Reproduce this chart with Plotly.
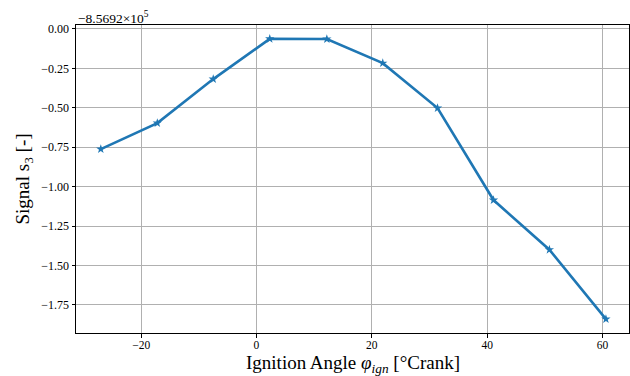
import plotly.graph_objects as go

# Data (values relative to offset -8.5692e5)
ign_angle = [-27.0, -17.2, -7.5, 2.3, 12.2, 21.9, 31.4, 41.1, 50.8, 60.6]
signal_rel = [-0.762, -0.597, -0.318, -0.063, -0.064, -0.217, -0.502, -1.085, -1.400, -1.840]
offset_label = "−8.5692×10<sup>5</sup>"

x_ticks = [-20, 0, 20, 40, 60]
y_ticks = [0.0, -0.25, -0.5, -0.75, -1.0, -1.25, -1.5, -1.75]

FONT = "Liberation Serif"

fig = go.Figure()
fig.add_trace(go.Scatter(
    x=ign_angle, y=signal_rel, mode="lines+markers",
    line=dict(color="#1f77b4", width=2.6),
    marker=dict(symbol="star", size=7, color="#1f77b4"),
    showlegend=False,
))

axis_common = dict(
    showline=True, linecolor="black", linewidth=1, mirror=True,
    ticks="outside", ticklen=3.5, tickcolor="black", tickwidth=1,
    showgrid=True, gridcolor="#b0b0b0", gridwidth=0.9,
    zeroline=False,
    tickfont=dict(family=FONT, size=12, color="black"),
)

fig.update_xaxes(
    range=[-31.3, 64.6], tickvals=x_ticks,
    ticktext=[("−" if v < 0 else "") + str(abs(v)) for v in x_ticks],
    ticklabelstandoff=-2,
    **{**axis_common, "tickfont": dict(family=FONT, size=11.5, color="black")},
)
fig.update_yaxes(
    range=[-1.928, 0.025], tickvals=y_ticks,
    ticktext=[("−" if v < 0 else "") + f"{abs(v):.2f}" for v in y_ticks],
    title=dict(text="Signal s<sub>3</sub> [-]",
               font=dict(family=FONT, size=19, color="black"), standoff=6),
    **axis_common,
)

fig.add_annotation(
    text="Ignition Angle <i>φ<sub>ign</sub></i> [°Crank]",
    xref="paper", yref="paper", x=0.5, y=0, xanchor="center", yanchor="bottom",
    yshift=-44, showarrow=False, borderpad=0,
    font=dict(family=FONT, size=19, color="black"),
)

fig.add_annotation(
    text=offset_label, xref="paper", yref="paper", x=0, y=1,
    xanchor="left", yanchor="bottom", showarrow=False,
    font=dict(family=FONT, size=13.5, color="black"), yshift=-3,
)

fig.update_layout(
    width=630, height=376,
    margin=dict(l=76, r=1, t=25, b=43),
    plot_bgcolor="white", paper_bgcolor="white",
)

fig.write_html("out.html")
